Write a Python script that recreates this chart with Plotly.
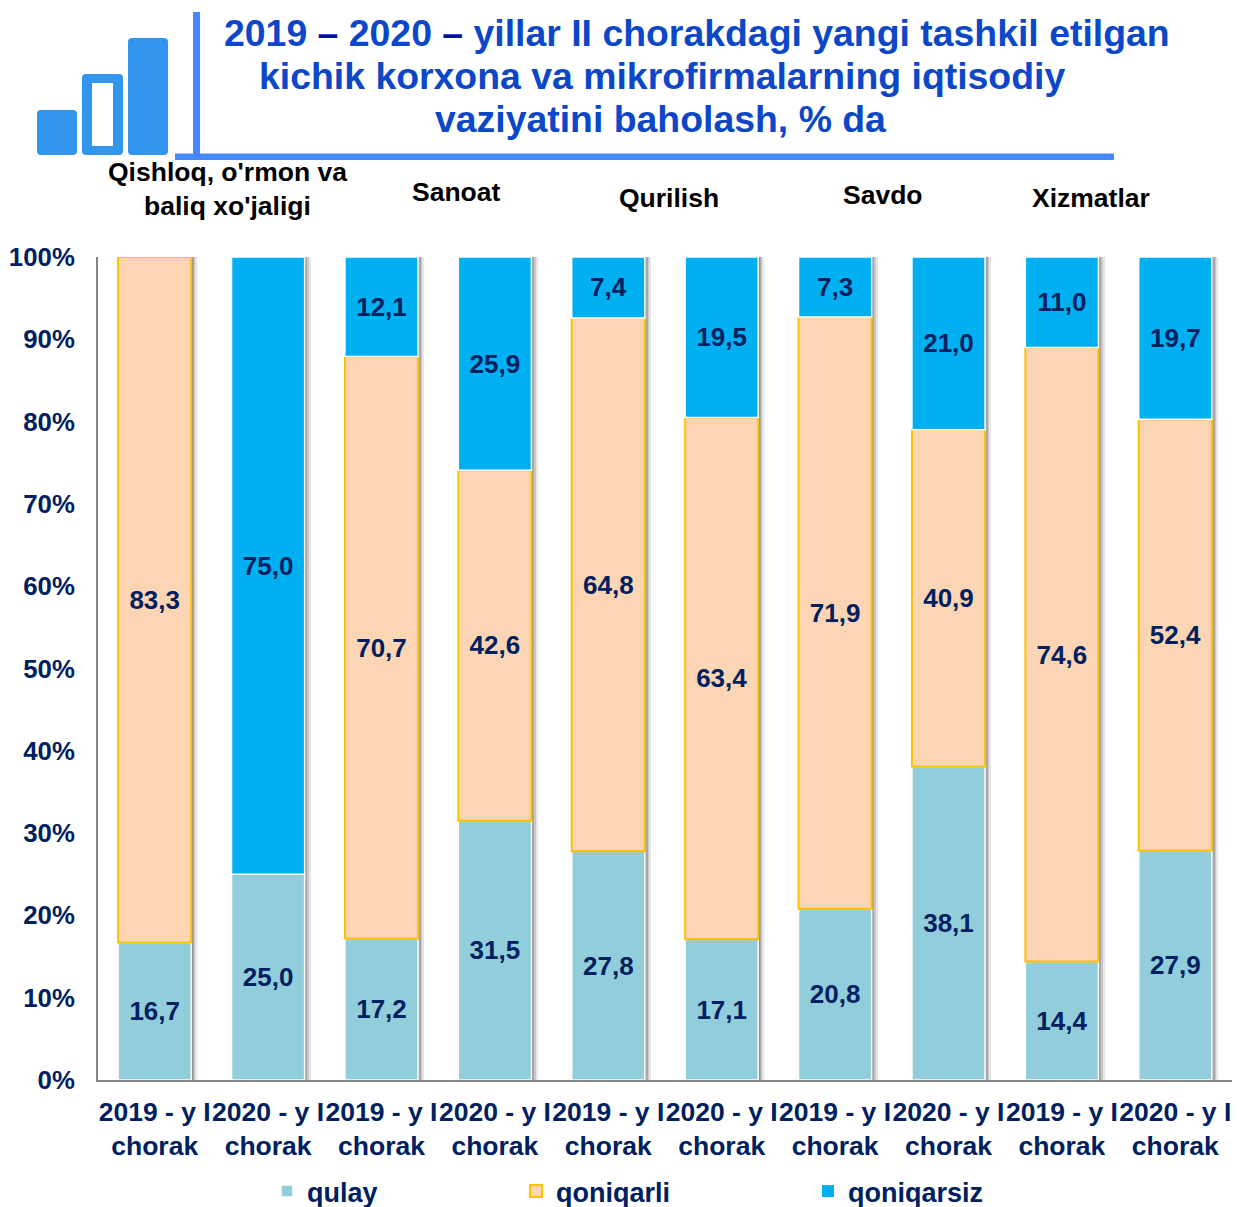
import numpy as np
import plotly.graph_objects as go

W, H = 1237, 1207
ML, MR, MT, MB = 98, 5, 257, 127

tick_labels = ["2019 - y I<br>chorak", "2020 - y I<br>chorak"] * 5
series_names = ["qulay", "qoniqarli", "qoniqarsiz"]
qulay = [16.7, 25.0, 17.2, 31.5, 27.8, 17.1, 20.8, 38.1, 14.4, 27.9]
qoniqarli = [83.3, 0.0, 70.7, 42.6, 64.8, 63.4, 71.9, 40.9, 74.6, 52.4]
qoniqarsiz = [0.0, 75.0, 12.1, 25.9, 7.4, 19.5, 7.3, 21.0, 11.0, 19.7]
groups = ["Qishloq, o'rmon va<br>baliq xo'jaligi", "Sanoat", "Qurilish", "Savdo", "Xizmatlar"]
y_ticks = [0, 10, 20, 30, 40, 50, 60, 70, 80, 90, 100]

NAVY = "#002060"
FONT = "Liberation Sans"
BARW = 0.645
x = list(range(10))


def px(p):
    return (p - ML) / (W - ML - MR)


def py(p):
    return 1 - (p - MT) / (H - MT - MB)


def labels(vals):
    return [f"{v:.1f}".replace(".", ",") if v > 0 else "" for v in vals]


fig = go.Figure()

# soft shadow at the right of every column
totals = np.array(qulay) + np.array(qoniqarli) + np.array(qoniqarsiz)
for i, c in enumerate(["#8f8f8f", "#a8a8a8", "#c8c8c8", "#e6e6e6"]):
    fig.add_trace(go.Bar(
        x=x, y=totals, width=0.0125, offset=BARW / 2 + 0.003 + i * 0.0125,
        marker=dict(color=c, line=dict(width=0)), showlegend=False, hoverinfo="skip",
    ))

bases = np.zeros(10)
styles = [("#92CDDC", "#ffffff", 1.5, "legend"),
          ("#FCD5B5", "#FFC000", 2, "legend2"),
          ("#00B0F0", "#ffffff", 1.5, "legend3")]
for name, vals, (col, lc, lw, leg_id) in zip(series_names, [qulay, qoniqarli, qoniqarsiz], styles):
    v = np.array(vals)
    fig.add_trace(go.Bar(
        x=x, y=v, base=bases.copy(), width=BARW, name=name, legend=leg_id,
        marker=dict(color=col, line=dict(color=lc, width=[lw if a > 0 else 0 for a in vals])),
        text=labels(vals), textposition="inside", insidetextanchor="middle", textangle=0,
        constraintext="none",
        textfont=dict(family=FONT, size=26, color=NAVY, weight="bold"),
    ))
    bases = bases + v

legend_font = dict(family=FONT, size=27, color=NAVY, weight="bold")


def leg(xp):
    return dict(x=px(xp), y=py(1167), xanchor="left", yanchor="top", orientation="h",
                font=legend_font, bgcolor="rgba(0,0,0,0)", itemclick=False, itemdoubleclick=False)


annotations = []
title_lines = [
    ("2019 <span style='color:#00129a'>–</span> 2020 <span style='color:#00129a'>–</span> yillar II chorakdagi yangi tashkil etilgan", 697, 33),
    ("kichik korxona va mikrofirmalarning iqtisodiy", 662, 76),
    ("vaziyatini baholash, % da", 661, 119),
]
for t, cx, cy in title_lines:
    annotations.append(dict(text=t, xref="paper", yref="paper", x=px(cx), y=py(cy), showarrow=False,
                            xanchor="center", yanchor="middle",
                            font=dict(family=FONT, size=37.4, color="#0B47C8", weight="bold")))
for t, cx, cy in zip(groups, [227, 456, 669, 883, 1091], [189, 192, 198, 195, 198]):
    annotations.append(dict(text=t, xref="paper", yref="paper", x=px(cx), y=py(cy), showarrow=False,
                            xanchor="center", yanchor="middle",
                            font=dict(family=FONT, size=26.5, color="#000000", weight="bold")))

BLUE = "#4488FF"
ICON = "#3296EE"


def rrect(x0, y0, x1, y1, r=4):
    a0, a1, b0, b1 = px(x0), px(x1), py(y0), py(y1)
    rx, ry = r / (W - ML - MR), r / (H - MT - MB)
    return (f"M{a0 + rx},{b0} L{a1 - rx},{b0} Q{a1},{b0} {a1},{b0 - ry} L{a1},{b1 + ry} "
            f"Q{a1},{b1} {a1 - rx},{b1} L{a0 + rx},{b1} Q{a0},{b1} {a0},{b1 + ry} "
            f"L{a0},{b0 - ry} Q{a0},{b0} {a0 + rx},{b0} Z")


shapes = [
    dict(type="rect", xref="paper", yref="paper", x0=px(193), x1=px(200), y0=py(12), y1=py(155),
         fillcolor=BLUE, line_width=0),
    dict(type="rect", xref="paper", yref="paper", x0=px(175), x1=px(1114), y0=py(153.5), y1=py(160),
         fillcolor=BLUE, line_width=0),
    dict(type="path", xref="paper", yref="paper", path=rrect(37, 110, 77, 155), fillcolor=ICON, line_width=0),
    dict(type="path", xref="paper", yref="paper", path=rrect(82, 74, 123, 155), fillcolor=ICON, line_width=0),
    dict(type="rect", xref="paper", yref="paper", x0=px(92), x1=px(113), y0=py(83), y1=py(146),
         fillcolor="#ffffff", line_width=0),
    dict(type="path", xref="paper", yref="paper", path=rrect(128, 38, 168, 155), fillcolor=ICON, line_width=0),
]

fig.update_layout(
    width=W, height=H, barmode="overlay", paper_bgcolor="#ffffff", plot_bgcolor="#ffffff",
    margin=dict(l=ML, r=MR, t=MT, b=MB, autoexpand=False),
    font=dict(family=FONT),
    annotations=annotations, shapes=shapes,
    legend=leg(267), legend2=leg(516), legend3=leg(808),
    xaxis=dict(range=[-0.5, 9.5], tickmode="array", tickvals=x, ticktext=tick_labels, tickangle=0,
               showgrid=False, zeroline=False, showline=True, linecolor="#868686", linewidth=2,
               ticks="outside", ticklen=7, tickcolor="rgba(0,0,0,0)",
               tickfont=dict(family=FONT, size=26.5, color=NAVY, weight="bold")),
    yaxis=dict(range=[0, 100], tickmode="array", tickvals=y_ticks, ticktext=[f"{t}%" for t in y_ticks],
               showgrid=False, zeroline=False, showline=True, linecolor="#868686", linewidth=2,
               ticks="outside", ticklen=16, tickcolor="rgba(0,0,0,0)",
               tickfont=dict(family=FONT, size=25.8, color=NAVY, weight="bold")),
)

fig.write_html("out.html", config=dict(displayModeBar=False),
               post_script="document.body.style.margin='0';")
